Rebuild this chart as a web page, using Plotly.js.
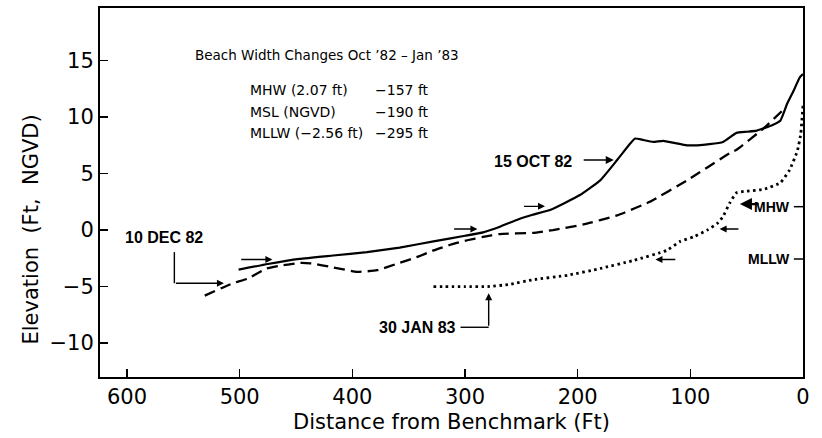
<!DOCTYPE html>
<html><head><meta charset="utf-8">
<script src="https://cdn.plot.ly/plotly-3.0.1.min.js"></script>
<style>html,body{margin:0;padding:0;background:#fff}#chart{width:822px;height:438px}</style>
</head><body><div id="chart"></div>
<script>
// Profile 15 OCT 82 (solid)
const oct82Dist = [501,475,447,417,387,358,328,300,284,269,254,240,224,198,180,165,153,149,143,133,124,103,94,83,71,59,50,41,27,20,14,8,3,0];
const oct82Elev = [-3.5,-3.0,-2.55,-2.25,-1.95,-1.55,-1.0,-0.5,-0.2,0.3,0.9,1.35,1.8,3.1,4.4,6.2,7.7,8.1,8.0,7.8,7.9,7.5,7.5,7.6,7.8,8.6,8.7,8.8,9.3,9.7,11.2,12.4,13.5,13.8];
// Profile 10 DEC 82 (dashed)
const dec82Dist = [531,506,493,476,461,446,437,417,396,378,358,343,328,313,298,284,269,240,222,195,165,136,103,65,59,35,18,15];
const dec82Elev = [-5.8,-4.7,-4.3,-3.4,-3.1,-2.9,-2.95,-3.3,-3.7,-3.55,-2.9,-2.4,-1.8,-1.3,-0.9,-0.6,-0.35,-0.25,0.0,0.5,1.3,2.5,4.4,6.8,7.1,9.0,10.6,10.9];
// Profile 30 JAN 83 (dotted)
const jan83Dist = [328,300,280,260,240,209,180,151,121,109,97,85,76,71,65,59,50,35,20,12,5,2,1,0];
const jan83Elev = [-5.0,-5.0,-5.0,-4.8,-4.4,-4.0,-3.4,-2.7,-1.8,-1.0,-0.6,0.0,0.6,1.2,2.4,3.3,3.45,3.6,4.2,5.3,7.0,8.5,9.7,11.0];

const xTicks = [600,500,400,300,200,100,0];
const yTicks = [-10,-5,0,5,10,15];
const datumVals = [2.07,-2.56];
const datumText = ['MHW','MLLW'];

const xTitle = 'Distance from Benchmark (Ft)';
const yTitle = 'Elevation  (Ft,  NGVD)';
const infoTitle = "Beach Width Changes Oct \u201982 \u2013 Jan \u201983";
const infoLabels = ["MHW (2.07 ft)","MSL (NGVD)","MLLW (\u22122.56 ft)"];
const infoValues = ["\u2212157 ft","\u2212190 ft","\u2212295 ft"];

// arrows: [headDist, headElev, tailDist, tailElev, width]
const arrows = [
  [168,6.2,196,6.2,1.6],
  [229,2.1,249,2.1,1.4],
  [289,0.1,311,0.1,1.4],
  [471,-2.6,500,-2.6,1.4],
  [514,-4.7,558,-4.7,1.4],
  [56,2.3,38,2.3,2.4],
  [74,0.1,56,0.1,1.4],
  [131,-2.6,112,-2.6,1.4],
  [279,-5.6,279,-8.6,1.4]
];
// leader segments [x0,y0,x1,y1]
const leaders = [[558,-1.95,558,-4.7],[304,-8.6,279,-8.6]];
// date labels [text, dist, elev]
const dateLabels = [["15 OCT 82",240,6.1],["10 DEC 82",567,-0.7],["30 JAN 83",342,-8.6]];

const F = "DejaVu Sans, Liberation Sans, sans-serif";
const FN = "Liberation Sans Narrow, Liberation Sans, Arial, sans-serif";

const traces = [
  {x:oct82Dist,y:oct82Elev,mode:'lines',line:{color:'#000',width:2.2,shape:'spline',smoothing:0.4},hoverinfo:'skip'},
  {x:dec82Dist,y:dec82Elev,mode:'lines',line:{color:'#000',width:2.3,dash:'11px,6px',shape:'spline',smoothing:0.4},hoverinfo:'skip'},
  {x:jan83Dist,y:jan83Elev,mode:'lines',line:{color:'#000',width:2.8,dash:'2.5px,3.5px',shape:'spline',smoothing:0.4},hoverinfo:'skip'}
];

const annotations = [];
arrows.forEach(a=>annotations.push({x:a[0],y:a[1],ax:a[2],ay:a[3],xref:'x',yref:'y',axref:'x',ayref:'y',text:'',showarrow:true,arrowhead:2,arrowsize:1,arrowwidth:a[4],arrowcolor:'#000'}));
dateLabels.forEach(d=>annotations.push({x:d[1],y:d[2],xref:'x',yref:'y',text:'<b>'+d[0]+'</b>',showarrow:false,font:{family:FN,size:16,color:'#000'},xanchor:'center',yanchor:'middle'}));
datumVals.forEach((v,i)=>annotations.push({x:0.985,y:v,xref:'paper',yref:'y',text:'<b>'+datumText[i]+'</b>',showarrow:false,xanchor:'right',yanchor:'middle',font:{family:FN,size:14,color:'#000'}}));
annotations.push({x:0.132,y:0.872,xref:'paper',yref:'paper',text:infoTitle,showarrow:false,xanchor:'left',yanchor:'middle',font:{family:F,size:13.5,color:'#000'}});
const rowY=[0.778,0.718,0.661];
infoLabels.forEach((t,i)=>{
  annotations.push({x:0.21,y:rowY[i],xref:'paper',yref:'paper',text:t,showarrow:false,xanchor:'left',yanchor:'middle',font:{family:F,size:14,color:'#000'}});
  annotations.push({x:0.389,y:rowY[i],xref:'paper',yref:'paper',text:infoValues[i],showarrow:false,xanchor:'left',yanchor:'middle',font:{family:F,size:14,color:'#000'}});
});
// y-axis title (placed lower than centre, as in the original)
annotations.push({x:-0.098,y:0.40,xref:'paper',yref:'paper',text:yTitle,textangle:-90,showarrow:false,xanchor:'center',yanchor:'middle',font:{family:F,size:21,color:'#000'}});

const shapes = leaders.map(l=>({type:'line',xref:'x',yref:'y',x0:l[0],y0:l[1],x1:l[2],y1:l[3],line:{color:'#000',width:1.4}}));
datumVals.forEach(v=>shapes.push({type:'line',xref:'paper',yref:'y',x0:0.987,x1:1,y0:v,y1:v,line:{color:'#000',width:1.5}}));

const layout = {
  width:822,height:438,
  margin:{l:100,r:19,t:8,b:61},
  paper_bgcolor:'#fff',plot_bgcolor:'#fff',
  showlegend:false,
  font:{family:F,color:'#000'},
  xaxis:{range:[624,0],tickvals:xTicks,ticks:'inside',ticklen:8,tickwidth:1.4,tickcolor:'#000',
    showline:true,linewidth:2,linecolor:'#000',mirror:true,showgrid:false,zeroline:false,
    tickfont:{family:F,size:21},title:{text:xTitle,font:{family:F,size:21},standoff:6}},
  yaxis:{range:[-13,19.65],tickvals:yTicks,ticks:'inside',ticklen:8,tickwidth:1.4,tickcolor:'#000',
    showline:true,linewidth:2,linecolor:'#000',mirror:true,showgrid:false,zeroline:false,
    tickfont:{family:F,size:21}},
  annotations:annotations,
  shapes:shapes
};
Plotly.newPlot('chart',traces,layout,{displayModeBar:false,staticPlot:true});
</script></body></html>
